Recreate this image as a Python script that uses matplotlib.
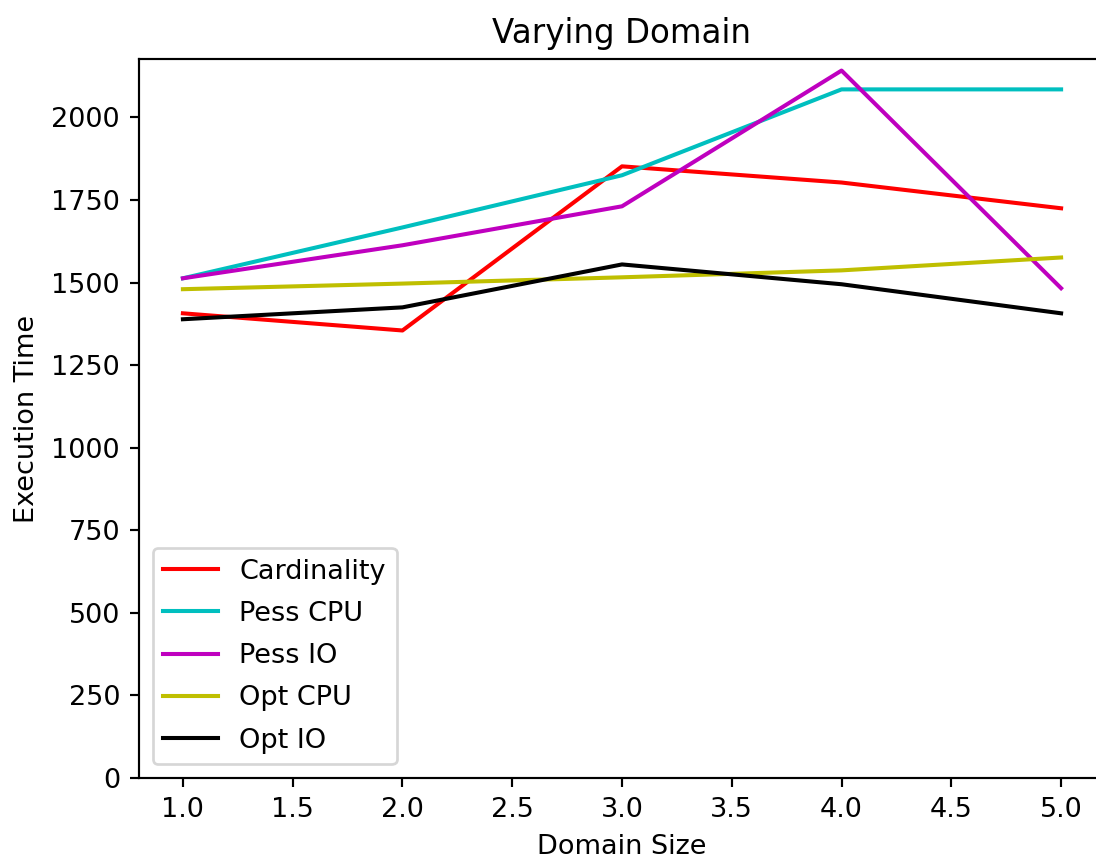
import matplotlib
matplotlib.use("Agg")
import matplotlib.pyplot as plt

domain_size = [1.0, 2.0, 3.0, 4.0, 5.0]
cardinality = [1407, 1355, 1852, 1803, 1725]
pess_cpu = [1513, 1667, 1825, 2085, 2085]
pess_io = [1513, 1613, 1731, 2142, 1483]
opt_cpu = [1480, 1497, 1516, 1537, 1576]
opt_io = [1389, 1425, 1555, 1495, 1407]

series = [
    ("Cardinality", cardinality, "r"),
    ("Pess CPU", pess_cpu, "c"),
    ("Pess IO", pess_io, "m"),
    ("Opt CPU", opt_cpu, "y"),
    ("Opt IO", opt_io, "k"),
]

dpi = 195
fig = plt.figure(figsize=(1096 / dpi, 859 / dpi), dpi=dpi)
ax = fig.add_axes([139 / 1096, 81 / 859, 966 / 1096, 719 / 859])

for label, vals, color in series:
    ax.plot(domain_size, vals, color=color, label=label)

ax.set_xlim(0.8, 5.2)
ax.set_ylim(0, 2177)
ax.set_yticks([0, 250, 500, 750, 1000, 1250, 1500, 1750, 2000])
ax.set_title("Varying Domain")
ax.set_xlabel("Domain Size")
ax.set_ylabel("Execution Time")
ax.legend(loc="lower left", labelspacing=0.6)

fig.savefig("out.png", dpi=dpi)
